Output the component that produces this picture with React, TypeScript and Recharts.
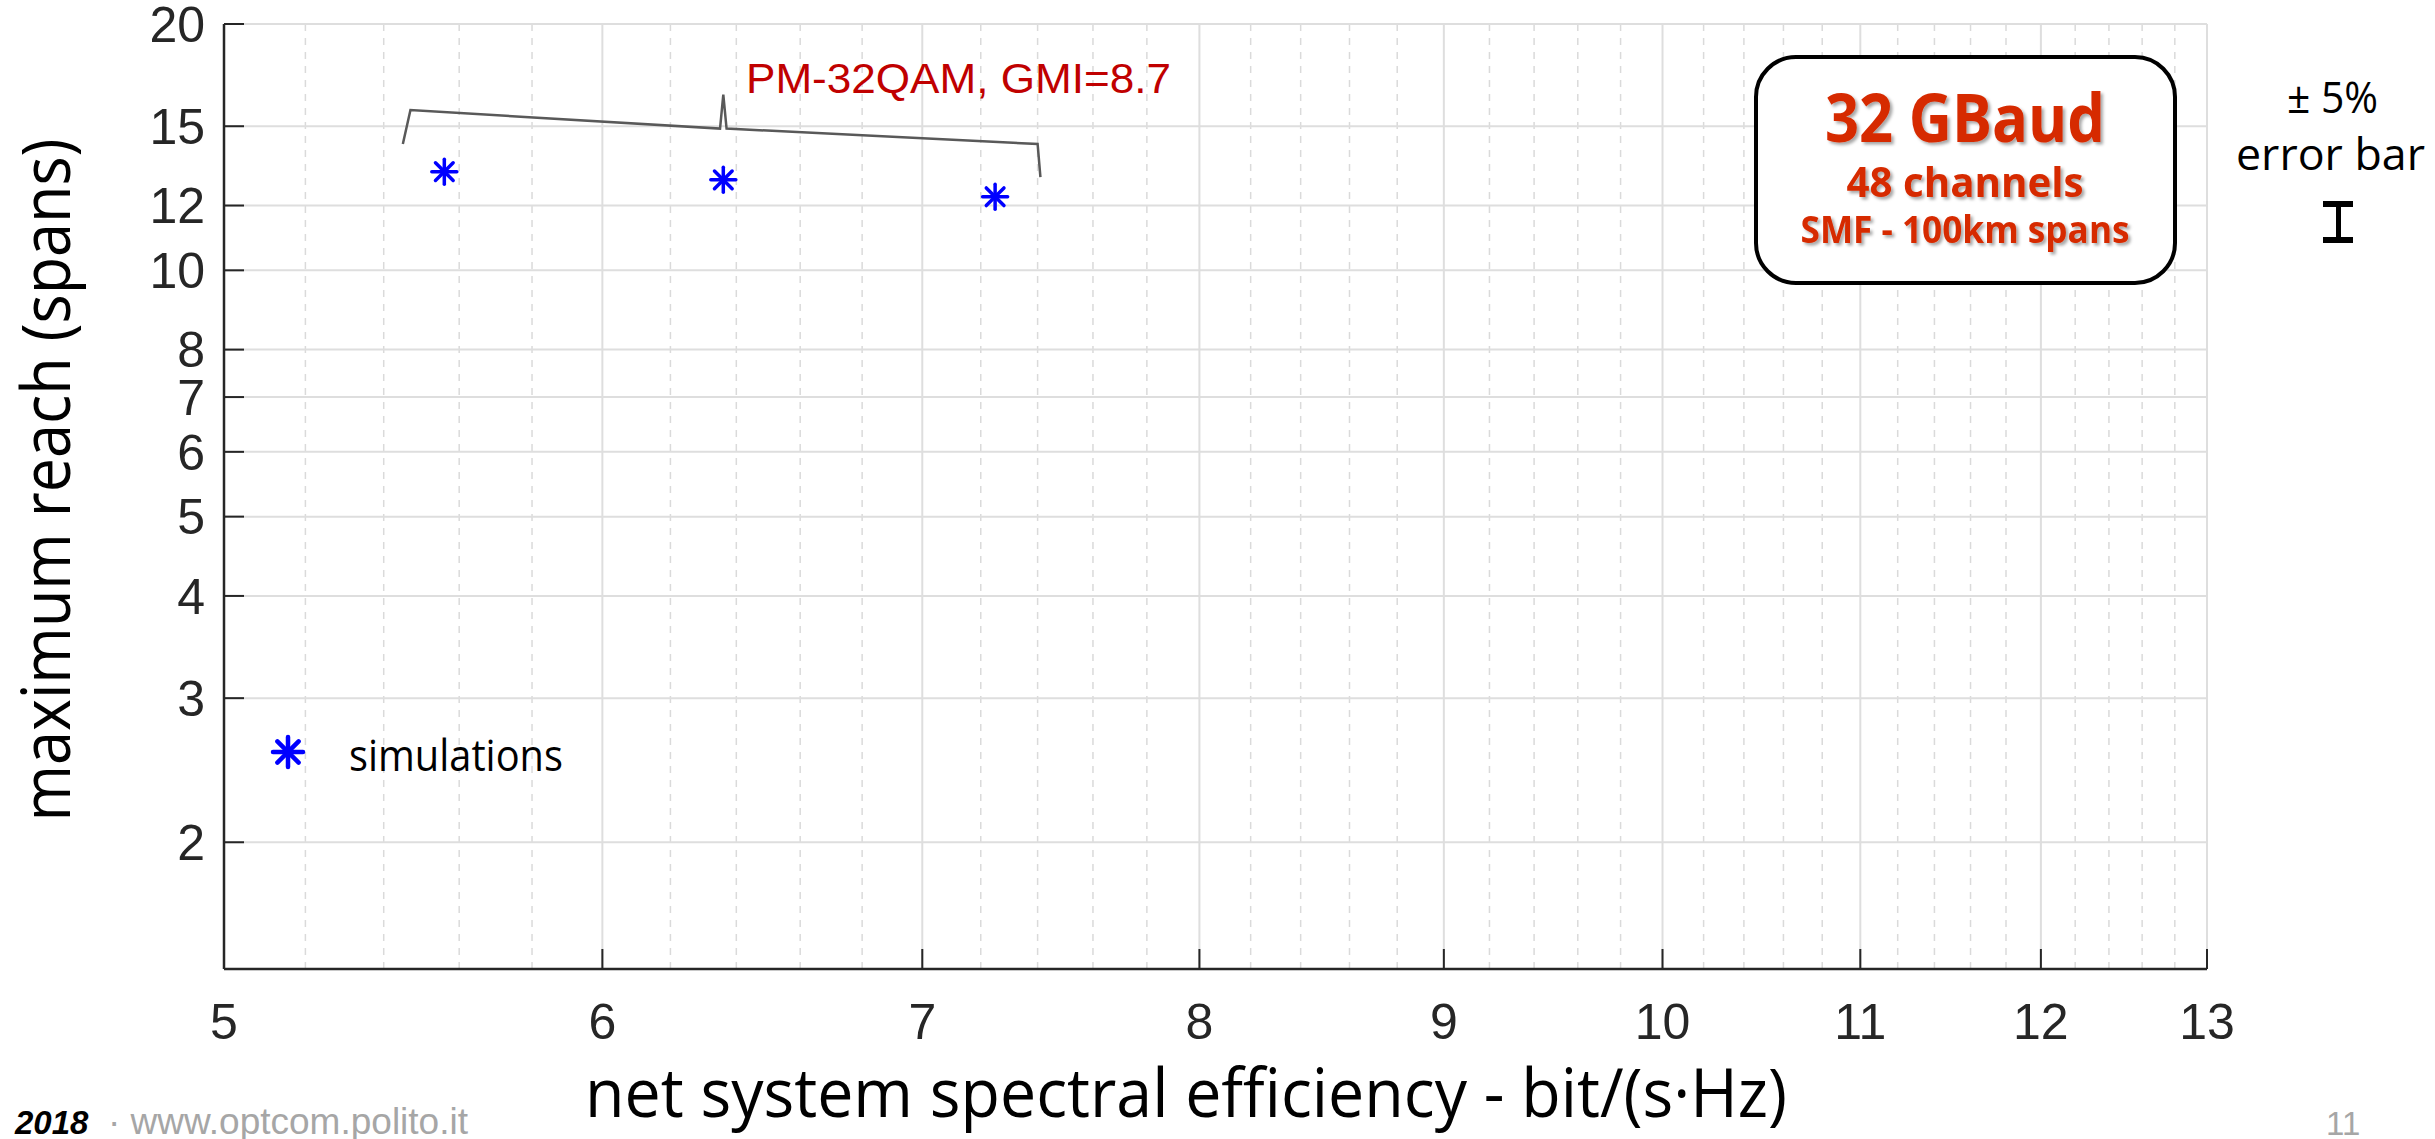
import React from 'react';
import { ScatterChart, Scatter, XAxis, YAxis, CartesianGrid, Legend } from 'recharts';

// axis ticks
const xMajorTicks = [5, 6, 7, 8, 9, 10, 11, 12, 13];
const xMinorTicks = [
  5.2, 5.4, 5.6, 5.8, 6.2, 6.4, 6.6, 6.8, 7.2, 7.4, 7.6, 7.8, 8.2, 8.4, 8.6, 8.8,
  9.2, 9.4, 9.6, 9.8, 10.2, 10.4, 10.6, 10.8, 11.2, 11.4, 11.6, 11.8, 12.2, 12.4, 12.6, 12.8,
];
const yTicks = [2, 3, 4, 5, 6, 7, 8, 10, 12, 15, 20];

// simulated points (PM-32QAM)
const simX = [5.56, 6.36, 7.25];
const simY = [13.2, 12.9, 12.3];

// curly brace over the three points
const braceX = [5.45, 5.47, 6.35, 6.36, 6.37, 7.4, 7.41];
const braceY = [14.27, 15.7, 14.9, 16.4, 14.9, 14.27, 13.0];

const simData = simX.map((x, i) => ({ x, y: simY[i] }));
const braceData = braceX.map((x, i) => ({ x, y: braceY[i] }));

const AXIS = '#262626';
const TICK_FONT = { fontSize: 50, fill: AXIS, fontFamily: 'Liberation Sans, Arial, sans-serif' };
const TITLE_FONT = 'Open Sans, DejaVu Sans, sans-serif';

function Star({ cx, cy, r = 12.5, w = 3.5 }: { cx: number; cy: number; r?: number; w?: number }) {
  return (
    <g stroke="#0000ff" strokeWidth={w} strokeLinecap="round">
      {[0, 45, 90, 135].map((a) => {
        const t = (a * Math.PI) / 180;
        return (
          <line
            key={a}
            x1={cx - r * Math.cos(t)}
            y1={cy - r * Math.sin(t)}
            x2={cx + r * Math.cos(t)}
            y2={cy + r * Math.sin(t)}
          />
        );
      })}
    </g>
  );
}

const NoLabel = () => <g />;

function LegendBox() {
  return (
    <svg width={420} height={72}>
      <Star cx={33} cy={30} r={15} w={4.5} />
      <text x={94} y={49} fontSize={44} fontFamily={TITLE_FONT} fill="#000" textLength={214} lengthAdjust="spacingAndGlyphs">
        simulations
      </text>
    </svg>
  );
}

export default function App() {
  return (
    <div style={{ position: 'absolute', left: 0, top: 0, width: 2435, height: 1139, background: '#fff' }}>
      <ScatterChart width={2435} height={1139} margin={{ top: 24, right: 228, bottom: 0, left: 0 }}>
        {/* bottom axes: minor first so both sit on the plot edge */}
        <XAxis
          xAxisId="xbm"
          dataKey="x"
          type="number"
          scale="log"
          domain={[5, 13]}
          allowDataOverflow
          ticks={xMinorTicks}
          interval={0}
          height={0}
          axisLine={false}
          tickSize={-11}
          tickLine={{ stroke: AXIS, strokeWidth: 2 }}
          tick={NoLabel}
        />
        <XAxis
          xAxisId="xb"
          dataKey="x"
          type="number"
          scale="log"
          domain={[5, 13]}
          allowDataOverflow
          ticks={xMajorTicks}
          interval={0}
          height={170}
          axisLine={{ stroke: AXIS, strokeWidth: 2.5 }}
          tickSize={-20}
          tickMargin={54}
          tickLine={{ stroke: AXIS, strokeWidth: 2 }}
          tick={TICK_FONT}
        />
        <XAxis
          xAxisId="xtm"
          orientation="top"
          dataKey="x"
          type="number"
          scale="log"
          domain={[5, 13]}
          allowDataOverflow
          ticks={xMinorTicks}
          interval={0}
          height={0}
          axisLine={false}
          tickSize={-11}
          tickLine={{ stroke: AXIS, strokeWidth: 2 }}
          tick={NoLabel}
        />
        <XAxis
          xAxisId="xt"
          orientation="top"
          dataKey="x"
          type="number"
          scale="log"
          domain={[5, 13]}
          allowDataOverflow
          ticks={xMajorTicks}
          interval={0}
          height={0}
          axisLine={{ stroke: AXIS, strokeWidth: 2.5 }}
          tickSize={-20}
          tickLine={{ stroke: AXIS, strokeWidth: 2 }}
          tick={NoLabel}
        />
        <YAxis
          yAxisId="yl"
          dataKey="y"
          type="number"
          scale="log"
          domain={[1.4, 20]}
          allowDataOverflow
          ticks={yTicks}
          interval={0}
          width={224}
          axisLine={{ stroke: AXIS, strokeWidth: 2.5 }}
          tickSize={-20}
          tickMargin={39}
          tickLine={{ stroke: AXIS, strokeWidth: 2 }}
          tick={TICK_FONT}
        />
        <YAxis
          yAxisId="yr"
          orientation="right"
          dataKey="y"
          type="number"
          scale="log"
          domain={[1.4, 20]}
          allowDataOverflow
          ticks={yTicks}
          interval={0}
          width={0}
          axisLine={{ stroke: AXIS, strokeWidth: 2.5 }}
          tickSize={-20}
          tickLine={{ stroke: AXIS, strokeWidth: 2 }}
          tick={NoLabel}
        />
        <CartesianGrid
          xAxisId="xbm"
          yAxisId="yl"
          horizontal={false}
          stroke="#dadada"
          strokeWidth={1.5}
          strokeDasharray="7 7"
        />
        <CartesianGrid xAxisId="xb" yAxisId="yl" stroke="#dedede" strokeWidth={2} />
        <Scatter
          data={braceData}
          xAxisId="xb"
          yAxisId="yl"
          line={{ stroke: '#595959', strokeWidth: 2.5 }}
          lineType="joint"
          shape={NoLabel}
          isAnimationActive={false}
        />
        <Scatter
          data={simData}
          xAxisId="xb"
          yAxisId="yl"
          shape={(p: any) => <Star cx={p.cx} cy={p.cy} />}
          isAnimationActive={false}
        />
        <Legend
          layout="vertical"
          align="center"
          verticalAlign="middle"
          wrapperStyle={{ left: 255, top: 722, width: 420, height: 72 }}
          content={() => <LegendBox />}
        />
      </ScatterChart>

      <svg
        width={2435}
        height={1139}
        style={{ position: 'absolute', left: 0, top: 0, pointerEvents: 'none' }}
      >
        <defs>
          <filter id="shadow" x="-10%" y="-10%" width="130%" height="140%">
            <feDropShadow dx="2.5" dy="2.5" stdDeviation="1.5" floodColor="#000" floodOpacity="0.35" />
          </filter>
        </defs>

        {/* axis titles */}
        <text
          x={1186}
          y={1117}
          textAnchor="middle"
          fontSize={68}
          fontFamily={TITLE_FONT}
          fill="#000"
          textLength={1202}
          lengthAdjust="spacingAndGlyphs"
        >
          net system spectral efficiency - bit/(s·Hz)
        </text>
        <text
          transform="translate(70 480) rotate(-90)"
          textAnchor="middle"
          fontSize={68}
          fontFamily={TITLE_FONT}
          fill="#000"
          textLength={683}
          lengthAdjust="spacingAndGlyphs"
        >
          maximum reach (spans)
        </text>

        {/* annotation */}
        <text
          x={746}
          y={93}
          fontSize={43}
          fontFamily="Liberation Sans, Arial, sans-serif"
          fill="#c00000"
          textLength={425}
          lengthAdjust="spacingAndGlyphs"
        >
          PM-32QAM, GMI=8.7
        </text>

        {/* info box */}
        <rect x={1756} y={57} width={419} height={226} rx={40} ry={40} fill="#fff" stroke="#000" strokeWidth={4} />
        <g fill="#d62b02" fontFamily={TITLE_FONT} fontWeight={700} textAnchor="middle" filter="url(#shadow)">
          <text x={1965} y={142} fontSize={66} textLength={280} lengthAdjust="spacingAndGlyphs">
            32 GBaud
          </text>
          <text x={1965} y={197} fontSize={42} textLength={237} lengthAdjust="spacingAndGlyphs">
            48 channels
          </text>
          <text x={1965} y={243} fontSize={37} textLength={329} lengthAdjust="spacingAndGlyphs">
            SMF - 100km spans
          </text>
        </g>

        {/* error bar legend */}
        <text x={2287} y={113} fontSize={44} fontFamily={TITLE_FONT} fill="#000" textLength={91} lengthAdjust="spacingAndGlyphs">
          ± 5%
        </text>
        <text x={2236} y={170} fontSize={44} fontFamily={TITLE_FONT} fill="#000" textLength={189} lengthAdjust="spacingAndGlyphs">
          error bar
        </text>
        <g fill="#000">
          <rect x={2323} y={201} width={30} height={6} />
          <rect x={2336} y={201} width={5} height={42} />
          <rect x={2323} y={237} width={30} height={6} />
        </g>

        {/* footer */}
        <text x={15} y={1134} fontSize={33} fontStyle="italic" fontWeight={700} fontFamily="Liberation Sans, Arial, sans-serif" fill="#000">
          2018
        </text>
        <text
          x={108}
          y={1134}
          fontSize={37}
          fontFamily="Liberation Sans, Arial, sans-serif"
          fill="#a6a6a6"
          textLength={360}
          lengthAdjust="spacingAndGlyphs"
        >
          · www.optcom.polito.it
        </text>
        <text x={2326} y={1135} fontSize={33} fontFamily="Liberation Sans, Arial, sans-serif" fill="#a6a6a6">
          11
        </text>
      </svg>
    </div>
  );
}
